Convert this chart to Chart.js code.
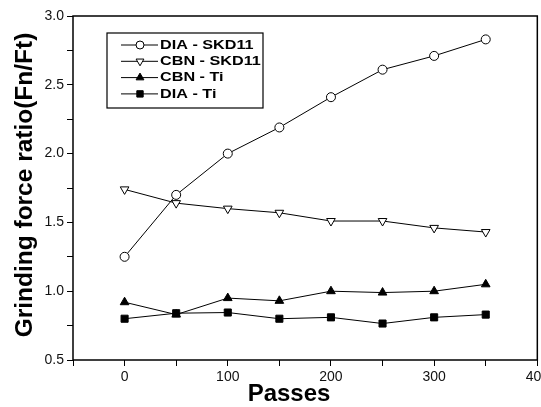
<!DOCTYPE html>
<html>
<head>
<meta charset="utf-8">
<script src="https://cdn.jsdelivr.net/npm/chart.js@4.4.1/dist/chart.umd.min.js"></script>
<style>
  html, body { margin: 0; padding: 0; background: #fff; overflow: hidden; }
  #wrap { position: relative; width: 552px; height: 407px; }
</style>
</head>
<body>
<div id="wrap"><canvas id="forceChart"></canvas></div>
<script>
const passes = [0, 50, 100, 150, 200, 250, 300, 350];
const diaSkd = [1.25, 1.70, 2.00, 2.19, 2.41, 2.61, 2.71, 2.83];
const cbnSkd = [1.74, 1.64, 1.60, 1.57, 1.51, 1.51, 1.46, 1.43];
const cbnTi = [0.92, 0.83, 0.95, 0.93, 1.00, 0.99, 1.00, 1.05];
const diaTi = [0.80, 0.84, 0.845, 0.80, 0.81, 0.765, 0.81, 0.83];
const seriesNames = ["DIA - SKD11", "CBN - SKD11", "CBN - Ti", "DIA - Ti"];
const xLabels = [0, 100, 200, 300, 400];
const yLabels = [0.5, 1.0, 1.5, 2.0, 2.5, 3.0];

function pts(vals) {
  return passes.map((p, i) => ({ x: p, y: vals[i] }));
}

function series(label, vals, style, fill, rot, r) {
  return {
    label: label,
    data: pts(vals),
    borderColor: "#000",
    borderWidth: 1,
    pointStyle: style,
    pointRotation: rot,
    pointRadius: r,
    pointBackgroundColor: fill,
    pointBorderColor: "#000",
    pointBorderWidth: 1,
    tension: 0
  };
}

// boxed legend inside the plot + frame + axis titles
const extras = {
  id: "extras",
  afterDraw(chart) {
    const ctx = chart.ctx;
    const a = chart.chartArea;
    ctx.save();
    ctx.strokeStyle = "#000";
    ctx.lineWidth = 1.5;
    ctx.strokeRect(a.left, a.top, a.right - a.left, a.bottom - a.top);

    // legend
    const bx = a.left + 34, by = a.top + 17;
    ctx.lineWidth = 1.2;
    ctx.strokeRect(bx, by, 156, 75);
    chart.data.datasets.forEach((ds, i) => {
      const ry = by + 12 + i * 16.3;
      ctx.strokeStyle = "#000";
      ctx.lineWidth = 1;
      ctx.beginPath();
      ctx.moveTo(bx + 14, ry);
      ctx.lineTo(bx + 51, ry);
      ctx.stroke();
      ctx.fillStyle = ds.pointBackgroundColor;
      Chart.helpers.drawPoint(ctx, {
        pointStyle: ds.pointStyle,
        rotation: ds.pointRotation,
        radius: ds.pointRadius - 0.5,
        borderWidth: 1
      }, bx + 33, ry);
      ctx.save();
      ctx.fillStyle = "#000";
      ctx.font = "bold 12px Arial, 'Liberation Sans', sans-serif";
      ctx.textBaseline = "middle";
      ctx.translate(bx + 53, ry + 0.5);
      ctx.scale(1.35, 1);
      ctx.fillText(ds.label, 0, 0);
      ctx.restore();
    });

    // axis titles
    ctx.fillStyle = "#000";
    ctx.textAlign = "center";
    ctx.textBaseline = "alphabetic";
    ctx.font = "bold 24px Arial, 'Liberation Sans', sans-serif";
    ctx.fillText("Passes", 289, 401);
    ctx.save();
    ctx.translate(32, 185);
    ctx.rotate(-Math.PI / 2);
    ctx.scale(1.02, 1);
    ctx.font = "bold 24px Arial, 'Liberation Sans', sans-serif";
    ctx.fillText("Grinding force ratio(Fn/Ft)", 0, 0);
    ctx.restore();
    ctx.restore();
  }
};

const ctx = document.getElementById("forceChart");
const forceChart = new Chart(ctx, {
  type: "line",
  data: {
    datasets: [
      series(seriesNames[0], diaSkd, "circle", "#fff", 0, 4.5),
      series(seriesNames[1], cbnSkd, "triangle", "#fff", 180, 5),
      series(seriesNames[2], cbnTi, "triangle", "#000", 0, 5),
      series(seriesNames[3], diaTi, "rect", "#000", 0, 5)
    ]
  },
  options: {
    responsive: true,
    maintainAspectRatio: false,
    animation: false,
    layout: { padding: { top: 16, left: 0, right: 0, bottom: 0 } },
    plugins: { legend: { display: false }, tooltip: { enabled: false } },
    scales: {
      x: {
        type: "linear",
        min: -50,
        max: 400,
        afterFit: (s) => { s.height = 47; },
        border: { display: false },
        grid: { drawOnChartArea: false, drawTicks: true, tickLength: 6, color: "#000", tickColor: "#000" },
        ticks: {
          stepSize: 50,
          autoSkip: false,
          maxRotation: 0,
          color: "#111",
          font: { family: "Arial, 'Liberation Sans', sans-serif", size: 14 },
          callback: (v) => (xLabels.includes(v) ? String(v) : "")
        }
      },
      y: {
        min: 0.5,
        max: 3.0,
        afterFit: (s) => { s.width = 73; },
        border: { display: false },
        grid: { drawOnChartArea: false, drawTicks: true, tickLength: 6, color: "#000", tickColor: "#000" },
        ticks: {
          stepSize: 0.25,
          autoSkip: false,
          color: "#111",
          font: { family: "Arial, 'Liberation Sans', sans-serif", size: 14 },
          callback: (v) => (yLabels.some((t) => Math.abs(t - v) < 1e-6) ? v.toFixed(1) : "")
        }
      }
    }
  },
  plugins: [extras]
});
</script>
</body>
</html>
